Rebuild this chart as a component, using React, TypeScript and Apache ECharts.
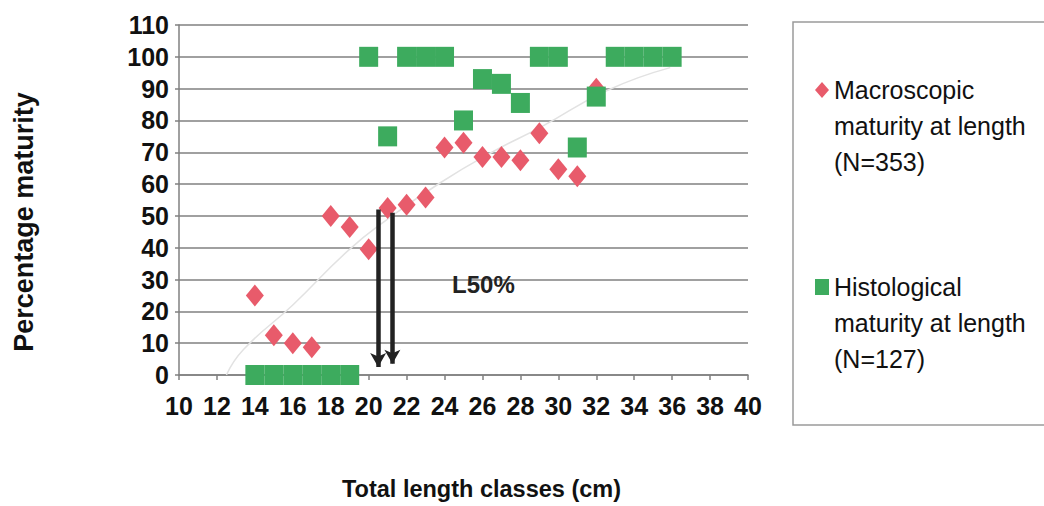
import React, { useEffect, useRef } from "react";
import * as echarts from "echarts";

// Macroscopic maturity at length (red diamonds)
const macroLengths = [14, 15, 16, 17, 18, 19, 20, 21, 22, 23, 24, 25, 26, 27, 28, 29, 30, 31, 32];
const macroValues = [25, 12.5, 10, 8.7, 50, 46.5, 39.5, 52.5, 53.5, 55.8, 71.5, 73, 68.5, 68.5, 67.5, 76, 64.7, 62.5, 90];

// Histological maturity at length (green squares)
const histoLengths = [14, 15, 16, 17, 18, 19, 20, 21, 22, 23, 24, 25, 26, 27, 28, 29, 30, 31, 32, 33, 34, 35, 36];
const histoValues = [0, 0, 0, 0, 0, 0, 100, 75, 100, 100, 100, 80, 93, 91.5, 85.5, 100, 100, 71.5, 87.5, 100, 100, 100, 100];

// Faint fitted maturity curve
const curveLengths = [12.5, 13.4, 16, 18.9, 21, 23.8, 26.5, 29.1, 32.6, 35.9];
const curveValues = [0, 8, 22, 39, 49, 60.5, 70, 78, 89.5, 96.6];

// L50% arrows: [x, yStart, yEnd]
const arrowX = [20.5, 21.25];
const arrowTop = [52, 51];
const arrowBottom = [2.5, 3.5];
const l50Label = "L50%";
const l50Pos = [26.05, 28.4];

const xTicks = { min: 10, max: 40, interval: 2 };
const yTicks = { min: 0, max: 110, interval: 10 };

const seriesNames = ["Macroscopic maturity at length (N=353)", "Histological maturity at length (N=127)"];
const legendLines: Record<string, string[]> = {
  [seriesNames[0]]: ["Macroscopic", "maturity at length", "(N=353)"],
  [seriesNames[1]]: ["Histological", "maturity at length", "(N=127)"],
};

const RED = "#e85b6b";
const GREEN = "#3dab5e";
const GRID = "#808080";
const TICK_FONT = "'Liberation Sans Narrow', 'Liberation Sans', Arial, sans-serif";
const FONT = "'Liberation Sans', Arial, sans-serif";

export default function App() {
  const ref = useRef<HTMLDivElement>(null);
  useEffect(() => {
    document.body.style.margin = "0";
    if (!ref.current) return;
    const chart = echarts.init(ref.current, undefined, { renderer: "svg" });
    const macro = macroLengths.map((x, i) => [x, macroValues[i]]);
    const histo = histoLengths.map((x, i) => [x, histoValues[i]]);
    const curve = curveLengths.map((x, i) => [x, curveValues[i]]);
    chart.setOption({
      animation: false,
      backgroundColor: "#ffffff",
      grid: { left: 179, right: 296, top: 25, bottom: 129 },
      xAxis: {
        type: "value",
        min: xTicks.min,
        max: xTicks.max,
        interval: xTicks.interval,
        name: "Total length classes (cm)",
        nameLocation: "middle",
        nameGap: 102,
        nameTextStyle: {
          fontFamily: FONT,
          fontWeight: "bold",
          fontSize: 23.5,
          color: "#111",
          padding: [0, 0, 0, 36],
        },
        axisLine: { show: true, lineStyle: { color: GRID, width: 1.5 } },
        axisTick: { show: true, length: 5, lineStyle: { color: GRID, width: 1.5 } },
        axisLabel: { margin: 18, fontFamily: TICK_FONT, fontWeight: "bold", fontSize: 25, color: "#111" },
        splitLine: { show: false },
      },
      yAxis: {
        type: "value",
        min: yTicks.min,
        max: yTicks.max,
        interval: yTicks.interval,
        name: "Percentage maturity",
        nameLocation: "middle",
        nameGap: 142,
        nameTextStyle: {
          fontFamily: FONT,
          fontWeight: "bold",
          fontSize: 27,
          color: "#111",
          padding: [0, 44, 0, 0],
        },
        axisLine: { show: true, lineStyle: { color: GRID, width: 1.5 } },
        axisTick: { show: true, length: 4, lineStyle: { color: GRID, width: 1.5 } },
        axisLabel: { margin: 10, fontFamily: TICK_FONT, fontWeight: "bold", fontSize: 25, color: "#111" },
        splitLine: { show: true, lineStyle: { color: GRID, width: 1.5 } },
      },
      legend: {
        data: seriesNames,
        orient: "vertical",
        left: 815,
        top: 0,
        padding: 0,
        itemWidth: 14,
        itemHeight: 16,
        itemGap: 17,
        formatter: (name: string) => "\n\n" + (legendLines[name] || [name]).join("\n"),
        textStyle: {
          fontFamily: FONT,
          fontSize: 25,
          lineHeight: 36,
          color: "#111",
        },
      },
      graphic: [
        {
          type: "rect",
          shape: { x: 793, y: 22, width: 260, height: 403 },
          style: { fill: "none", stroke: "#9a9a9a", lineWidth: 1.5 },
          z: -1,
        },
      ],
      series: [
        {
          type: "line",
          name: "curve",
          data: curve,
          smooth: true,
          showSymbol: false,
          symbol: "none",
          lineStyle: { color: "#e2e2e2", width: 1.5 },
          z: 1,
          silent: true,
        },
        {
          type: "scatter",
          name: seriesNames[0],
          data: macro,
          symbol: "diamond",
          symbolSize: [18, 22],
          itemStyle: { color: RED, opacity: 1 },
          z: 2,
        },
        {
          type: "scatter",
          name: seriesNames[1],
          data: histo,
          symbol: "rect",
          symbolSize: [19, 20],
          itemStyle: { color: GREEN, opacity: 1 },
          z: 3,
        },
        {
          type: "scatter",
          name: "annotations",
          data: [],
          z: 5,
          markLine: {
            silent: true,
            symbol: ["none", "arrow"],
            symbolSize: [12, 14],
            label: { show: false },
            lineStyle: { color: "#222", width: 4.5, type: "solid" },
            data: arrowX.map((x, i) => [
              { coord: [x, arrowTop[i]] },
              { coord: [x, arrowBottom[i]] },
            ]),
          },
          markPoint: {
            silent: true,
            symbol: "circle",
            symbolSize: 0,
            label: {
              show: true,
              position: "inside",
              formatter: l50Label,
              fontFamily: TICK_FONT,
              fontWeight: "bold",
              fontSize: 24,
              color: "#222",
            },
            data: [{ coord: l50Pos }],
          },
        },
      ],
    });
    return () => chart.dispose();
  }, []);
  return <div ref={ref} style={{ width: 1044, height: 506 }} />;
}
